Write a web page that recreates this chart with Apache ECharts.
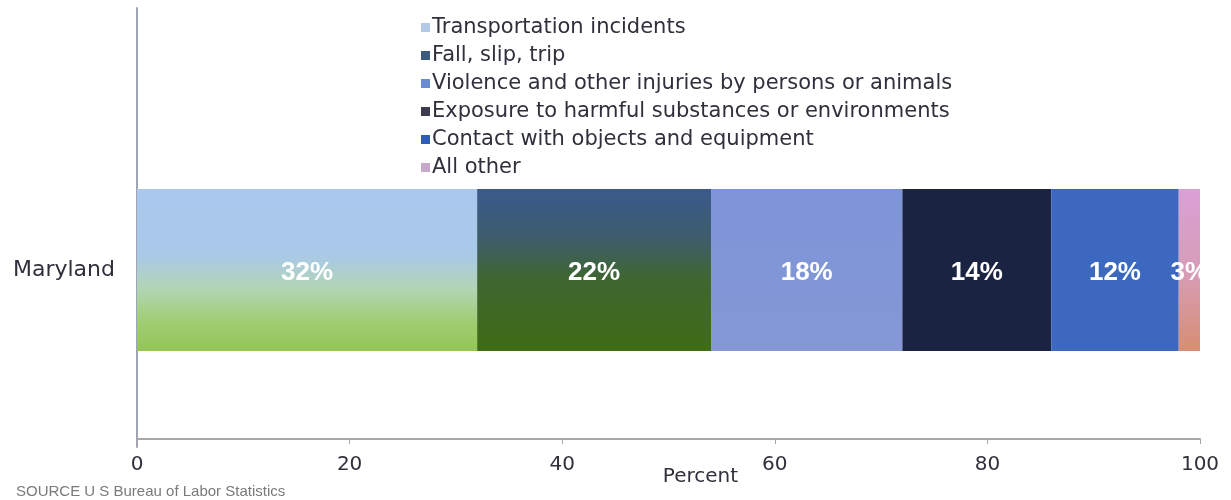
<!DOCTYPE html>
<html>
<head>
<meta charset="utf-8">
<title>Fatal work injuries by event, Maryland</title>
<script src="https://cdn.jsdelivr.net/npm/echarts@6/dist/echarts.min.js"></script>
<style>
  html, body { margin: 0; padding: 0; background: #ffffff; }
  #chart { width: 1231px; height: 500px; }
</style>
</head>
<body>
<div id="chart"></div>
<script>
// Share of fatal work injuries by event, Maryland (percent)
const categories = ['Maryland'];
const eventNames = [
  'Transportation incidents',
  'Fall, slip, trip',
  'Violence and other injuries by persons or animals',
  'Exposure to harmful substances or environments',
  'Contact with objects and equipment',
  'All other'
];
const transportation = [32];
const fallSlipTrip = [22];
const violence = [18];
const exposure = [14];
const contact = [12];
const allOther = [3];
const percentTicks = [0, 20, 40, 60, 80, 100];
const sourceNote = 'SOURCE U S Bureau of Labor Statistics';

const seriesValues = [transportation, fallSlipTrip, violence, exposure, contact, allOther];

const grad = (stops) => new echarts.graphic.LinearGradient(0, 0, 0, 1,
  stops.map(([offset, color]) => ({ offset, color })));

// fill of each bar segment
const segmentFills = [
  grad([[0, '#aac8ee'], [0.4, '#a9c9e9'], [0.62, '#b2d5b4'], [0.82, '#a0cd72'], [1, '#94c556']]),
  grad([[0, '#3a5a8c'], [0.3, '#3d5d6c'], [0.55, '#3f6632'], [1, '#3f6c14']]),
  grad([[0, '#7d95d8'], [1, '#8597d6']]),
  '#1b2342',
  '#3c69bf',
  grad([[0, '#daa0d6'], [0.5, '#d69db8'], [1, '#d88e72']])
];
// swatches shown in the legend
const legendSwatches = ['#b4c9e6', '#3a5a80', '#6b8bd0', '#3c3c50', '#2f5fb5', '#c8a8cc'];

const chart = echarts.init(document.getElementById('chart'), null, { renderer: 'canvas' });

const axisGray = '#a8a8a8';
const textDark = '#30303c';

chart.setOption({
  animation: false,
  backgroundColor: '#ffffff',
  title: {
    text: sourceNote,
    left: 11,
    top: 479,
    textStyle: { fontFamily: 'Liberation Sans', fontSize: 15, fontWeight: 'normal', color: '#7a7a7a' }
  },
  legend: {
    orient: 'vertical',
    left: 416,
    top: 12,
    icon: 'rect',
    itemWidth: 9,
    itemHeight: 9,
    itemGap: 7,
    selectedMode: false,
    textStyle: { fontFamily: 'DejaVu Sans', fontSize: 21, lineHeight: 21, color: textDark, padding: [0, 0, 0, -3] },
    data: eventNames.map((name, i) => ({ name, itemStyle: { color: legendSwatches[i] } }))
  },
  grid: [
    // frame for the vertical axis line
    { left: 137, right: 31, top: 8, bottom: 53, outerBoundsMode: 'none', containLabel: false },
    // plotting area for the bar
    { left: 137, right: 31, top: 101, bottom: 61, outerBoundsMode: 'none', containLabel: false }
  ],
  xAxis: [
    { gridIndex: 0, type: 'value', min: 0, max: 100, show: false },
    {
      gridIndex: 1,
      type: 'value',
      min: percentTicks[0],
      max: percentTicks[percentTicks.length - 1],
      interval: 20,
      name: 'Percent',
      nameLocation: 'middle',
      nameGap: 28,
      nameMoveOverlap: false,
      nameTextStyle: { fontFamily: 'DejaVu Sans', fontSize: 20, color: textDark, padding: [0, 0, 0, 64] },
      axisLine: { show: true, lineStyle: { color: axisGray, width: 2 } },
      axisTick: { show: true, length: 5, lineStyle: { color: axisGray, width: 1 } },
      axisLabel: {
        margin: 16,
        fontFamily: 'DejaVu Sans',
        fontSize: 20,
        color: textDark,
        formatter: (v) => (percentTicks.includes(v) ? String(v) : '')
      },
      splitLine: { show: false }
    }
  ],
  yAxis: [
    {
      gridIndex: 0,
      type: 'value',
      min: 0,
      max: 1,
      axisLine: { show: true, lineStyle: { color: '#a0a4b4', width: 2 } },
      axisTick: { show: false },
      axisLabel: { show: false },
      splitLine: { show: false }
    },
    {
      gridIndex: 1,
      type: 'category',
      data: categories,
      axisLine: { show: false },
      axisTick: { show: false },
      axisLabel: { margin: 22, fontFamily: 'DejaVu Sans', fontSize: 22, color: textDark }
    }
  ],
  series: eventNames.map((name, i) => ({
    name,
    type: 'bar',
    xAxisIndex: 1,
    yAxisIndex: 1,
    stack: 'events',
    barWidth: 162,
    data: seriesValues[i],
    itemStyle: { color: segmentFills[i] },
    label: {
      show: true,
      position: 'inside',
      offset: [0, 3],
      formatter: '{c}%',
      fontFamily: 'Liberation Sans',
      fontWeight: 'bold',
      fontSize: 26,
      color: '#ffffff'
    }
  }))
});
</script>
</body>
</html>
